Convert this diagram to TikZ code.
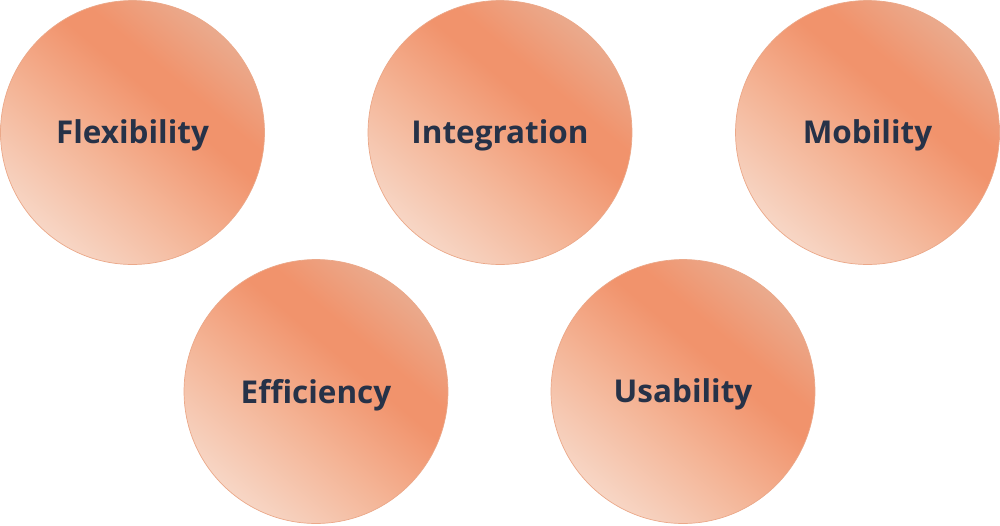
\documentclass[tikz,border=0pt]{standalone}
\usepackage{fontspec}
\setmainfont{Open Sans}
\definecolor{txt}{HTML}{263248}
\definecolor{cA}{HTML}{F7D6C5}
\definecolor{cB}{HTML}{F4B597}
\definecolor{cC}{HTML}{F1936C}
\definecolor{cD}{HTML}{EEA07F}
\definecolor{cE}{HTML}{EAAA8D}
\definecolor{rim}{HTML}{EBA889}
\pgfdeclarehorizontalshading{ball}{100bp}{color(0bp)=(cA); color(25bp)=(cA); color(42bp)=(cB); color(58bp)=(cC); color(63bp)=(cC); color(75bp)=(cE); color(100bp)=(cE)}
\newcommand{\blbl}[1]{\raisebox{-0.065cm}[\height][\depth]{#1}}
\tikzset{
  bubble/.style={circle, minimum size=5.28cm, inner sep=0pt, shading=ball, shading angle=50, draw=rim, line width=0.4pt,
    text=txt, font=\fontsize{17.9pt}{20pt}\selectfont\bfseries}
}
\begin{document}
\begin{tikzpicture}[x=0.02cm,y=-0.02cm]
\useasboundingbox (0,0) rectangle (1000,525);
\node[bubble] (flex) at (132.5,132.5) {\blbl{Flexibility}};
\node[bubble] (integ) at (500,132.5) {\blbl{Integration}};
\node[bubble] (mob) at (867.5,132.5) {\blbl{Mobility}};
\node[bubble] (eff) at (316,391.5) {\blbl{Efficiency}};
\node[bubble] (usa) at (683,391.5) {\blbl{Usability}};
\end{tikzpicture}
\end{document}
